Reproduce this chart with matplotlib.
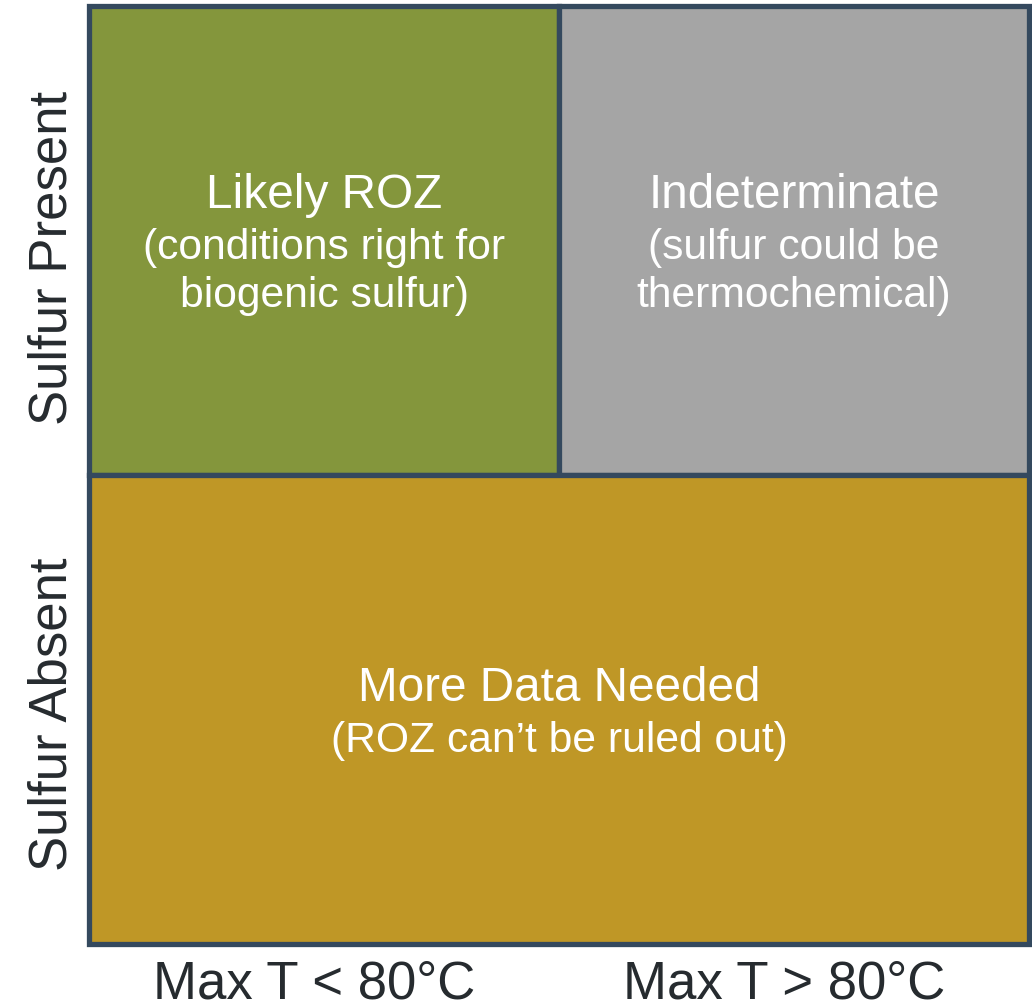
import matplotlib.pyplot as plt
from matplotlib.patches import Rectangle

plt.rcParams['font.family'] = ['Liberation Sans', 'DejaVu Sans']

col_labels = ['Max T < 80°C', 'Max T > 80°C']
row_labels = ['Sulfur Absent', 'Sulfur Present']

# cells: (col, row, colspan, title, subtitle lines, colour)
cells = [
    (0, 1, 1, 'Likely ROZ', ['(conditions right for', 'biogenic sulfur)'], '#84963c'),
    (1, 1, 1, 'Indeterminate', ['(sulfur could be', 'thermochemical)'], '#a5a5a5'),
    (0, 0, 2, 'More Data Needed', ['(ROZ can\u2019t be ruled out)'], '#bf9726'),
]

edge = '#34495e'
px = 1 / 469  # one pixel in data units

fig = plt.figure(figsize=(10.32, 10.08), dpi=100)
ax = fig.add_axes([89 / 1032, 64 / 1008, 940 / 1032, 938 / 1008])
ax.set_xlim(0, 2)
ax.set_ylim(0, 2)

for c, r, span, title, sub, col in cells:
    ax.add_patch(Rectangle((c, r), span, 1, facecolor=col, edgecolor=edge,
                           linewidth=3.8, clip_on=False))
    cx = c + span / 2
    # baselines, in px below the cell centre
    block = 51 + (len(sub) - 1) * 47
    base = 17 - block / 2
    ax.text(cx, r + 0.5 - base * px, title, ha='center', va='baseline',
            fontsize=34.4, color='white')
    for i, line in enumerate(sub):
        off = base + 51 + i * 47
        ax.text(cx, r + 0.5 - off * px, line, ha='center', va='baseline',
                fontsize=30.7, color='white')

for s in ax.spines.values():
    s.set_visible(False)

ax.set_xticks([0.5 - 10 * px, 1.5 - 10 * px])
ax.set_xticklabels(col_labels, fontsize=38, color='#262b2f')
ax.set_yticks([0.5 - 5 * px, 1.5 - 17 * px])
ax.set_yticklabels(row_labels, fontsize=38, color='#262b2f', rotation=90, va='center')
ax.tick_params(axis='y', length=0, pad=8)
ax.tick_params(axis='x', length=0, pad=11)

plt.savefig('out.png', dpi=100)
